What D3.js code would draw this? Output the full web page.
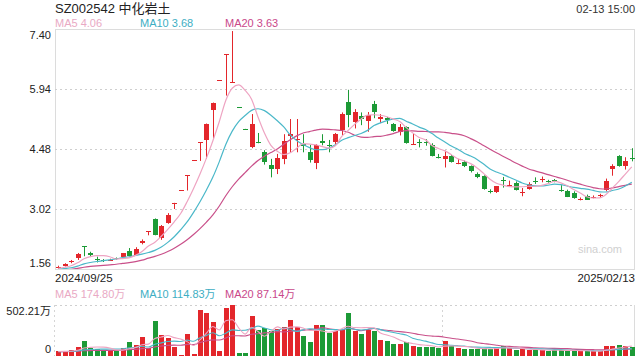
<!DOCTYPE html>
<html><head><meta charset="utf-8">
<script src="https://cdn.jsdelivr.net/npm/d3@7"></script>
<style>
html,body{margin:0;padding:0;background:#fff;}
svg{display:block;font-family:"Liberation Sans",Arial,"Noto Sans CJK SC",sans-serif;}
</style></head>
<body><svg id="chart" width="640" height="360"></svg>
<script>
// ---- data ----
const title = "SZ002542 中化岩土";
const timeLabel = "02-13 15:00";
const dateLabels = ["2024/09/25", "2025/02/13"];
const priceTicks = [7.40, 5.94, 4.48, 3.02, 1.56];
const volTicks = [502.21, 0];
const volTickLabels = ["502.21万", "0"];
const maLegend = ["MA5 4.06", "MA10 3.68", "MA20 3.63"];
const volLegend = ["MA5 174.80万", "MA10 114.83万", "MA20 87.14万"];

const opens  = [1.60,1.64,1.73,1.82,2.11,1.94,1.81,1.77,1.78,1.82,1.84,1.99,1.90,2.21,2.46,2.78,2.33,2.68,3.15,3.49,
                3.84,4.22,4.64,4.72,5.45,6.17,6.79,6.11,5.51,4.97,4.52,4.65,4.41,4.10,3.98,4.25,4.79,4.70,4.61,4.40,
                4.14,4.68,4.57,4.64,4.95,5.63,5.13,5.29,5.17,5.57,5.21,5.23,5.09,4.89,5.01,4.59,4.65,4.65,4.58,4.29,
                4.24,4.32,4.12,4.16,4.06,3.87,3.82,3.45,3.43,3.72,3.59,3.65,3.42,3.51,3.70,3.72,3.70,3.72,3.48,3.47,
                3.41,3.25,3.34,3.29,3.33,3.47,3.98,4.30,4.06,4.25];
const highs  = [1.64,1.70,1.78,1.95,2.11,1.98,1.86,1.80,1.81,1.84,1.95,2.07,2.09,2.28,2.48,2.79,2.63,2.92,3.17,3.49,
                3.84,4.22,4.64,5.10,5.61,6.17,6.79,7.35,5.51,4.97,5.33,4.87,4.45,4.24,4.36,4.84,5.21,5.21,4.84,4.58,
                4.60,4.84,4.70,4.87,5.37,5.92,5.45,5.37,5.38,5.65,5.33,5.26,5.11,5.09,5.03,4.85,4.72,4.72,4.62,4.36,
                4.44,4.34,4.24,4.20,4.08,3.91,3.84,3.50,3.58,3.80,3.71,3.69,3.53,3.67,3.79,3.81,3.73,3.75,3.60,3.49,
                3.45,3.30,3.37,3.35,3.39,3.76,4.11,4.33,4.28,4.50];
const lows   = [1.56,1.62,1.70,1.78,1.87,1.86,1.72,1.73,1.76,1.78,1.83,1.87,1.88,2.16,2.38,2.38,2.27,2.66,3.02,3.49,
                3.47,4.22,4.19,4.24,4.72,6.17,5.78,6.11,5.51,4.96,4.50,4.62,4.10,3.79,3.87,4.11,4.40,4.40,4.40,4.15,
                3.99,4.57,4.40,4.60,4.82,5.01,4.98,5.06,4.90,5.23,5.11,5.09,4.90,4.81,4.61,4.58,4.52,4.56,4.30,4.25,
                4.03,4.15,4.11,4.04,3.91,3.77,3.49,3.40,3.41,3.54,3.58,3.47,3.33,3.49,3.63,3.67,3.66,3.67,3.44,3.31,
                3.27,3.23,3.24,3.28,3.29,3.45,3.83,4.05,3.98,4.18];
const closes = [1.62,1.68,1.75,1.92,2.08,1.88,1.79,1.75,1.79,1.80,1.94,1.88,2.05,2.25,2.48,2.40,2.61,2.88,3.17,3.49,
                3.84,4.22,4.64,5.10,5.61,6.17,6.79,6.12,5.50,4.96,5.09,4.62,4.17,4.00,4.25,4.68,4.84,4.73,4.55,4.20,
                4.58,4.63,4.55,4.84,5.33,5.31,5.37,5.21,5.31,5.37,5.25,5.18,4.93,5.01,4.63,4.61,4.63,4.63,4.32,4.27,
                4.32,4.17,4.14,4.06,3.93,3.80,3.51,3.43,3.57,3.70,3.61,3.49,3.44,3.63,3.68,3.74,3.69,3.71,3.46,3.33,
                3.28,3.27,3.25,3.31,3.35,3.69,4.06,4.06,4.19,4.23];
// volume in 万
const volumes = [45,50,55,90,150,80,67,50,50,50,74,134,107,191,80,348,210,182,84,12,
                 220,18,455,422,335,52,472,502.21,28,25,392,256,274,251,261,284,352,284,194,141,
                 301,310,226,246,263,419,246,218,260,246,162,148,114,117,140,100,90,85,90,80,
                 143,95,78,70,70,72,75,72,80,95,80,55,67,60,60,55,50,55,60,55,
                 50,45,50,45,50,95,100,105,95,90];
// earlier sessions (before the visible window), used only for the moving averages
const priorCloses = [1.55,1.54,1.52,1.50,1.49,1.50,1.52,1.51,1.53,1.52,1.54,1.55,1.53,1.52,1.54,1.55,1.56,1.57,1.58];
const priorVolumes = [40,38,42,45,40,36,44,48,40,42,39,41,45,43,40,46,44,42,45];

// ---- layout ----
const L = 55, R = 635, T = 29, B = 269, VT = 305, VB = 356;
const RED = "#e3262b", GREEN = "#1c9a36";
const MA_COLORS = ["#eea4c2", "#4bb8c9", "#c9508a"];
const MA_TEXT = ["#e9a9c4", "#3daec3", "#c9488a"];

const svg = d3.select("#chart");
const n = closes.length;
const idx = d3.range(n);
const x = d3.scaleBand().domain(idx).range([L, R]).paddingInner(0.26).paddingOuter(0.13);
const cx = i => x(i) + x.bandwidth() / 2;
const y = d3.scaleLinear().domain([1.56, 7.40]).range([B, T]);
const yv = d3.scaleLinear().domain([0, 502.21]).range([VB, VT]);

function ma(all, k, offset) {
  return idx.map(i => d3.mean(all.slice(offset + i - k + 1, offset + i + 1)));
}
const allC = priorCloses.concat(closes);
const allV = priorVolumes.concat(volumes);
const off = priorCloses.length;
const priceMA = [5, 10, 20].map(k => ma(allC, k, off));
const volMA = [5, 10, 20].map(k => ma(allV, k, off));

// clip paths
const defs = svg.append("defs");
defs.append("clipPath").attr("id", "cpMain").append("rect").attr("x", L).attr("y", T).attr("width", R - L).attr("height", B - T);
defs.append("clipPath").attr("id", "cpVol").append("rect").attr("x", L).attr("y", VT).attr("width", R - L).attr("height", VB - VT);

// title
svg.append("text").attr("x", L).attr("y", 13).attr("font-size", 13).attr("fill", "#222").text(title);
svg.append("text").attr("x", R).attr("y", 13).attr("font-size", 11).attr("fill", "#333").attr("text-anchor", "end").text(timeLabel);

// legends
const legX = [L, L + 85, L + 170];
maLegend.forEach((t, k) => svg.append("text").attr("x", legX[k]).attr("y", 27).attr("font-size", 11).attr("fill", MA_TEXT[k]).text(t));
volLegend.forEach((t, k) => svg.append("text").attr("x", legX[k]).attr("y", 298).attr("font-size", 11).attr("fill", MA_TEXT[k]).text(t));

// main frame & grid
svg.append("rect").attr("x", L + 0.5).attr("y", T + 0.5).attr("width", R - L - 1).attr("height", B - T)
  .attr("fill", "none").attr("stroke", "#dcdcdc");
priceTicks.slice(1, -1).forEach(v => {
  svg.append("line").attr("x1", L).attr("x2", R).attr("y1", Math.round(y(v)) + 0.5).attr("y2", Math.round(y(v)) + 0.5)
    .attr("stroke", "#cfcfcf").attr("stroke-dasharray", "2,3");
});
priceTicks.forEach(v => {
  const yy = Math.min(Math.max(y(v), T + 6), B - 6);
  svg.append("text").attr("x", 51).attr("y", yy).attr("dy", "0.35em").attr("text-anchor", "end")
    .attr("font-size", 11).attr("fill", "#222").text(v.toFixed(2));
});
svg.append("text").attr("x", L).attr("y", 282).attr("font-size", 11.5).attr("fill", "#222").text(dateLabels[0]);
svg.append("text").attr("x", R).attr("y", 282).attr("font-size", 11.5).attr("fill", "#222").attr("text-anchor", "end").text(dateLabels[1]);
svg.append("text").attr("x", 622).attr("y", 253).attr("font-size", 11).attr("fill", "#d0d0d0").attr("text-anchor", "end").text("sina.com");

// volume frame
svg.append("line").attr("x1", L).attr("x2", R).attr("y1", VT + 0.5).attr("y2", VT + 0.5).attr("stroke", "#cfcfcf").attr("stroke-dasharray", "2,3");
svg.append("line").attr("x1", L - 0.5).attr("x2", L - 0.5).attr("y1", VT).attr("y2", VB).attr("stroke", "#d5d5d5").attr("stroke-dasharray", "2,3");
svg.append("line").attr("x1", Math.round(L + (R - L) * 2 / 3) + 0.5).attr("x2", Math.round(L + (R - L) * 2 / 3) + 0.5)
  .attr("y1", VT).attr("y2", VB).attr("stroke", "#d5d5d5").attr("stroke-dasharray", "2,3");
svg.append("line").attr("x1", R - 0.5).attr("x2", R - 0.5).attr("y1", VT).attr("y2", VB).attr("stroke", "#dcdcdc");
volTicks.forEach((v, k) => {
  const yy = Math.min(Math.max(yv(v), VT + 6), VB - 7);
  svg.append("text").attr("x", 51).attr("y", yy).attr("dy", "0.35em").attr("text-anchor", "end")
    .attr("font-size", 11).attr("fill", "#222").text(volTickLabels[k]);
});

const col = i => closes[i] >= opens[i] ? RED : GREEN;

// candles
const gC = svg.append("g").attr("clip-path", "url(#cpMain)");
gC.selectAll("line.wick").data(idx).join("line")
  .attr("x1", i => Math.round(cx(i)) + 0.5).attr("x2", i => Math.round(cx(i)) + 0.5)
  .attr("y1", i => y(highs[i])).attr("y2", i => y(lows[i]))
  .attr("stroke", col).attr("stroke-width", 1);
gC.selectAll("rect.body").data(idx).join("rect")
  .attr("x", i => Math.round(cx(i)) - 2).attr("width", 5)
  .attr("y", i => Math.round(y(Math.max(opens[i], closes[i]))))
  .attr("height", i => Math.max(1, Math.round(Math.abs(y(opens[i]) - y(closes[i])))))
  .attr("fill", col).attr("shape-rendering", "crispEdges");

// price MAs
const gM = svg.append("g").attr("clip-path", "url(#cpMain)");
[2, 1, 0].forEach(k => {
  gM.append("path").datum(idx).attr("fill", "none").attr("stroke", MA_COLORS[k]).attr("stroke-width", 1.2)
    .attr("d", d3.line().x(i => cx(i)).y(i => y(priceMA[k][i])).curve(d3.curveMonotoneX));
});

// volume bars
const gV = svg.append("g").attr("clip-path", "url(#cpVol)");
gV.selectAll("rect").data(idx).join("rect")
  .attr("x", i => Math.round(cx(i)) - 2).attr("width", 5)
  .attr("y", i => Math.round(yv(volumes[i])))
  .attr("height", i => Math.max(1, VB - Math.round(yv(volumes[i]))))
  .attr("fill", col).attr("shape-rendering", "crispEdges");
[2, 1, 0].forEach(k => {
  gV.append("path").datum(idx).attr("fill", "none").attr("stroke", MA_COLORS[k]).attr("stroke-width", 1.1)
    .attr("d", d3.line().x(i => cx(i)).y(i => yv(volMA[k][i])).curve(d3.curveMonotoneX));
});
</script></body></html>
